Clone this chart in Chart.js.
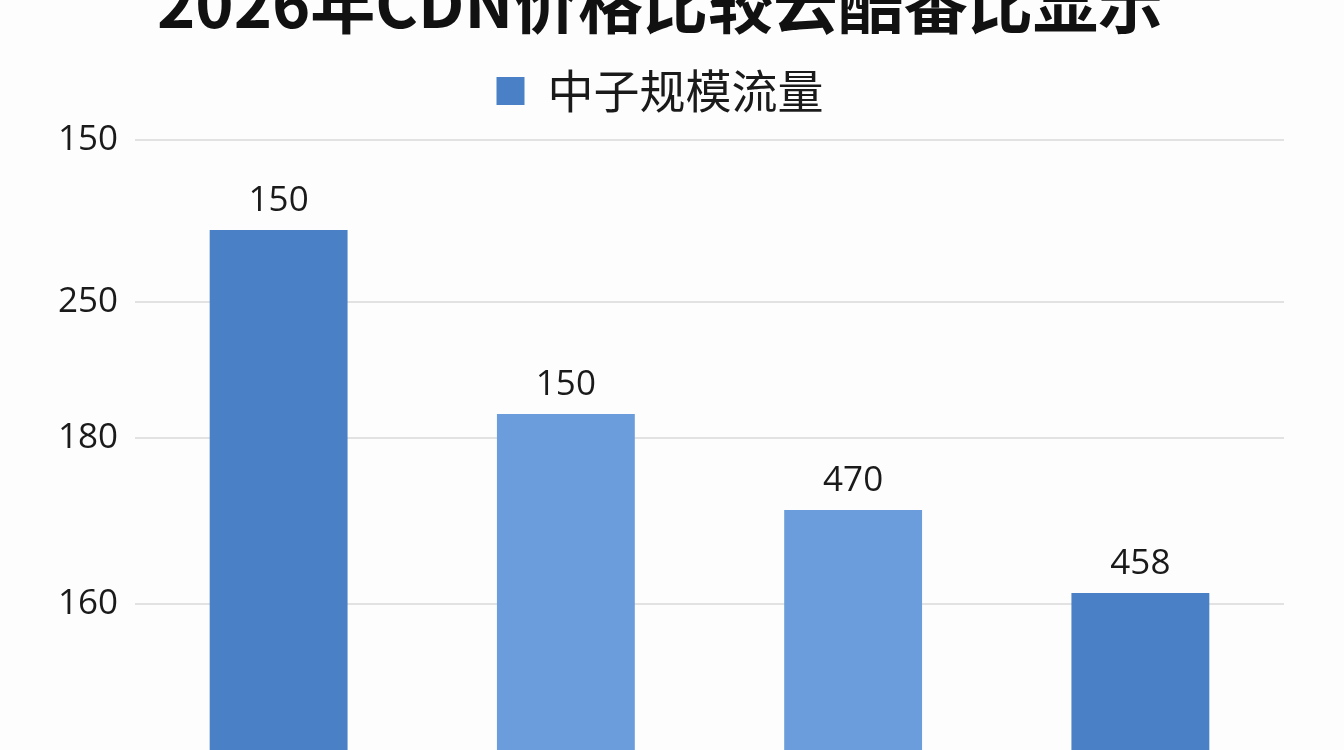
<!DOCTYPE html>
<html>
<head>
<meta charset="utf-8">
<script src="https://cdn.jsdelivr.net/npm/chart.js@4.4.1/dist/chart.umd.min.js"></script>
<style>
    html, body { margin: 0; padding: 0; background: #fdfdfd; overflow: hidden; }
    #wrap { position: relative; width: 1344px; height: 750px; overflow: hidden; }
    #chart { position: absolute; left: 0; top: -40px; }
</style>
</head>
<body>
<div id="wrap">
    <canvas id="chart" width="1344" height="840"></canvas>
</div>
<script>
// categories (their names are cut off below the picture)
const categories = ["A", "B", "C", "D"];
// bar heights on the picture's own vertical scale (0 = just under the bottom edge)
const barLevels = [528.6, 345.8, 250.4, 167.9];
// numbers printed above the bars
const barLabels = ["150", "150", "470", "458"];
// gridline positions on the same scale and the text shown beside them
const tickPositions = [618, 457, 321.9, 157];
const tickLabels = ["150", "250", "180", "160"];
const axisTop = 634;
const barColors = ["#4a80c6", "#6b9ddd", "#6b9ddd", "#4a80c6"];

const seriesName = "中子规模流量";
const chartTitle = "2026年CDN价格比较云酷番比显示";

// draws the value text above each bar
const barValueLabels = {
    id: "barValueLabels",
    afterDatasetsDraw(chart) {
        const ctx = chart.ctx;
        const meta = chart.getDatasetMeta(0);
        ctx.save();
        ctx.font = "35px 'Open Sans'";
        ctx.fillStyle = "#1a1a1a";
        ctx.textAlign = "center";
        ctx.textBaseline = "alphabetic";
        meta.data.forEach((bar, i) => {
            ctx.fillText(barLabels[i], bar.x, bar.y - 19);
        });
        ctx.restore();
    }
};

const ctx = document.getElementById("chart");
new Chart(ctx, {
    type: "bar",
    data: {
        labels: categories,
        datasets: [{
            label: seriesName,
            data: barLevels,
            backgroundColor: barColors,
            borderWidth: 0,
            categoryPercentage: 1,
            barPercentage: 0.48
        }]
    },
    options: {
        responsive: false,
        animation: false,
        layout: { padding: { left: 36, right: 60, top: 0, bottom: 0 } },
        plugins: {
            title: {
                display: true,
                text: chartTitle,
                color: "#111",
                font: { family: "'Noto Sans CJK SC'", size: 65, weight: "bold" },
                padding: { top: 4, bottom: 0 }
            },
            legend: {
                display: true,
                labels: {
                    color: "#1a1a1a",
                    boxWidth: 28,
                    boxHeight: 28,
                    padding: 26,
                    font: { family: "'Noto Sans CJK SC'", size: 46 }
                }
            },
            tooltip: { enabled: false }
        },
        scales: {
            x: { display: false },
            y: {
                min: 0,
                max: axisTop,
                afterBuildTicks(scale) {
                    scale.ticks = tickPositions.map(v => ({ value: v }));
                },
                afterFit(scale) {
                    scale.width = 99;
                },
                ticks: {
                    color: "#1a1a1a",
                    padding: 17,
                    font: { family: "'Open Sans'", size: 35 },
                    callback: (value, index) => tickLabels[index]
                },
                grid: { color: "#e2e2e2", lineWidth: 2, drawTicks: false },
                border: { display: false }
            }
        }
    },
    plugins: [barValueLabels]
});
</script>
</body>
</html>
